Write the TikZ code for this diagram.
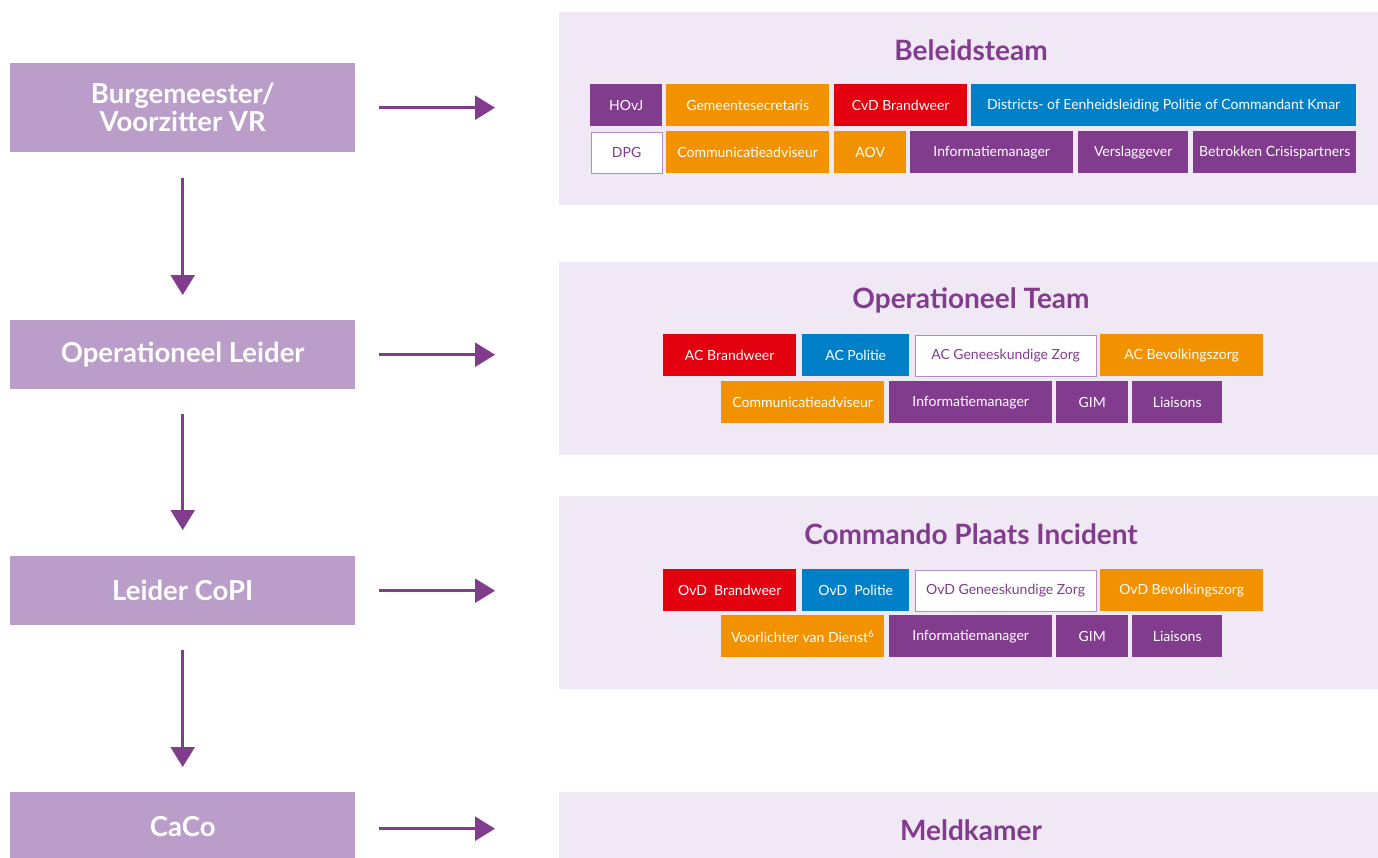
\documentclass[tikz,border=0pt]{standalone}
\usepackage{fontspec}
\setmainfont{Lato}
\usetikzlibrary{arrows.meta}
\definecolor{dpurple}{HTML}{823C8E}
\definecolor{lpurple}{HTML}{BB9DCA}
\definecolor{panelc}{HTML}{F0E8F5}
\definecolor{orangec}{HTML}{F39200}
\definecolor{redc}{HTML}{E3000F}
\definecolor{bluec}{HTML}{0080C9}
\definecolor{wborder}{HTML}{B48CC4}
\tikzset{
  leftbox/.style={fill=lpurple, anchor=north west, inner sep=0pt, text=white, font=\bfseries\fontsize{27.5}{28}\selectfont, align=center},
  panel/.style={fill=panelc, anchor=north west, inner sep=0pt},
  ptitle/.style={text=dpurple, font=\bfseries\fontsize{28}{30}\selectfont},
  cell/.style={anchor=north west, inner sep=0pt, minimum height=42pt, font=\fontsize{14}{16}\selectfont, text=white},
  pu/.style={cell, fill=dpurple},
  orr/.style={cell, fill=orangec},
  rd/.style={cell, fill=redc},
  bl/.style={cell, fill=bluec},
  wh/.style={cell, fill=white, draw=wborder, line width=1.2pt, text=dpurple},
  arr/.style={draw=dpurple, line width=2.5pt, -{Triangle[length=20pt,width=24pt]}}
}
\begin{document}
\begin{tikzpicture}[x=1pt,y=-1pt]
\useasboundingbox (0,0) rectangle (1378,857);
% left boxes
\node[leftbox, minimum width=345pt, minimum height=89pt] (L1) at (10,63) {Burgemeester/\\Voorzitter VR};
\node[leftbox, minimum width=345pt, minimum height=69pt] (L2) at (10,320) {Operationeel Leider};
\node[leftbox, minimum width=345pt, minimum height=69pt] (L3) at (10,556) {Leider CoPI};
\node[leftbox, minimum width=345pt, minimum height=69pt] (L4) at (10,792) {CaCo};
% panels
\node[panel, minimum width=819pt, minimum height=193pt] (P1) at (559,12) {};
\node[panel, minimum width=819pt, minimum height=193pt] (P2) at (559,262) {};
\node[panel, minimum width=819pt, minimum height=193pt] (P3) at (559,496) {};
\node[panel, minimum width=819pt, minimum height=70pt] (P4) at (559,792) {};
\node[ptitle] (T1) at (971,50) {Beleidsteam};
\node[ptitle] (T2) at (971,300) {Operationeel Team};
\node[ptitle] (T3) at (971,534) {Commando Plaats Incident};
\node[ptitle] (T4) at (971,830) {Meldkamer};
% Beleidsteam cells
\node[pu, minimum width=72pt] (b1) at (590,84) {HOvJ};
\node[orr, minimum width=163pt] (b2) at (666,84) {Gemeentesecretaris};
\node[rd, minimum width=133pt] (b3) at (834,84) {CvD Brandweer};
\node[bl, minimum width=385pt] (b4) at (971,84) {Districts- of Eenheidsleiding Politie of Commandant Kmar};
\node[wh, minimum width=71pt, minimum height=41pt] (b5) at (590.5,131.5) {DPG};
\node[orr, minimum width=163pt] (b6) at (666,131) {Communicatieadviseur};
\node[orr, minimum width=72pt] (b7) at (834,131) {AOV};
\node[pu, minimum width=163pt] (b8) at (910,131) {Informatiemanager};
\node[pu, minimum width=110pt] (b9) at (1078,131) {Verslaggever};
\node[pu, minimum width=163pt] (b10) at (1193,131) {Betrokken Crisispartners};
% Operationeel Team cells
\node[rd, minimum width=133pt] (o1) at (663,334) {AC Brandweer};
\node[bl, minimum width=107pt] (o2) at (802,334) {AC Politie};
\node[wh, minimum width=181pt, minimum height=41pt] (o3) at (914.5,334.5) {AC Geneeskundige Zorg};
\node[orr, minimum width=163pt] (o4) at (1100,334) {AC Bevolkingszorg};
\node[orr, minimum width=163pt] (o5) at (721,381) {Communicatieadviseur};
\node[pu, minimum width=163pt] (o6) at (889,381) {Informatiemanager};
\node[pu, minimum width=72pt] (o7) at (1056,381) {GIM};
\node[pu, minimum width=90pt] (o8) at (1132,381) {Liaisons};
% CoPI cells
\node[rd, minimum width=133pt] (c1) at (663,569) {OvD\ \ Brandweer};
\node[bl, minimum width=107pt] (c2) at (802,569) {OvD\ \ Politie};
\node[wh, minimum width=181pt, minimum height=41pt] (c3) at (914.5,569.5) {OvD Geneeskundige Zorg};
\node[orr, minimum width=163pt] (c4) at (1100,569) {OvD Bevolkingszorg};
\node[orr, minimum width=163pt] (c5) at (721,615) {Voorlichter van Dienst\textsuperscript{6}};
\node[pu, minimum width=163pt] (c6) at (889,615) {Informatiemanager};
\node[pu, minimum width=72pt] (c7) at (1056,615) {GIM};
\node[pu, minimum width=90pt] (c8) at (1132,615) {Liaisons};
% horizontal arrows
\draw[arr, shorten <=24pt, shorten >=64pt] (L1.east) -- (L1.east -| P1.west);
\draw[arr, shorten <=24pt, shorten >=64pt] (L2.east) -- (L2.east -| P2.west);
\draw[arr, shorten <=24pt, shorten >=64pt] (L3.east) -- (L3.east -| P3.west);
\coordinate (L4e) at ([yshift=-2pt]L4.east);
\draw[arr, shorten <=24pt, shorten >=64pt] (L4e) -- (L4e -| P4.west);
% vertical arrows
\draw[arr, shorten <=26pt, shorten >=25pt] (L1.south) -- (L2.north);
\draw[arr, shorten <=25pt, shorten >=26pt] (L2.south) -- (L3.north);
\draw[arr, shorten <=25pt, shorten >=25pt] (L3.south) -- (L4.north);
\end{tikzpicture}
\end{document}
